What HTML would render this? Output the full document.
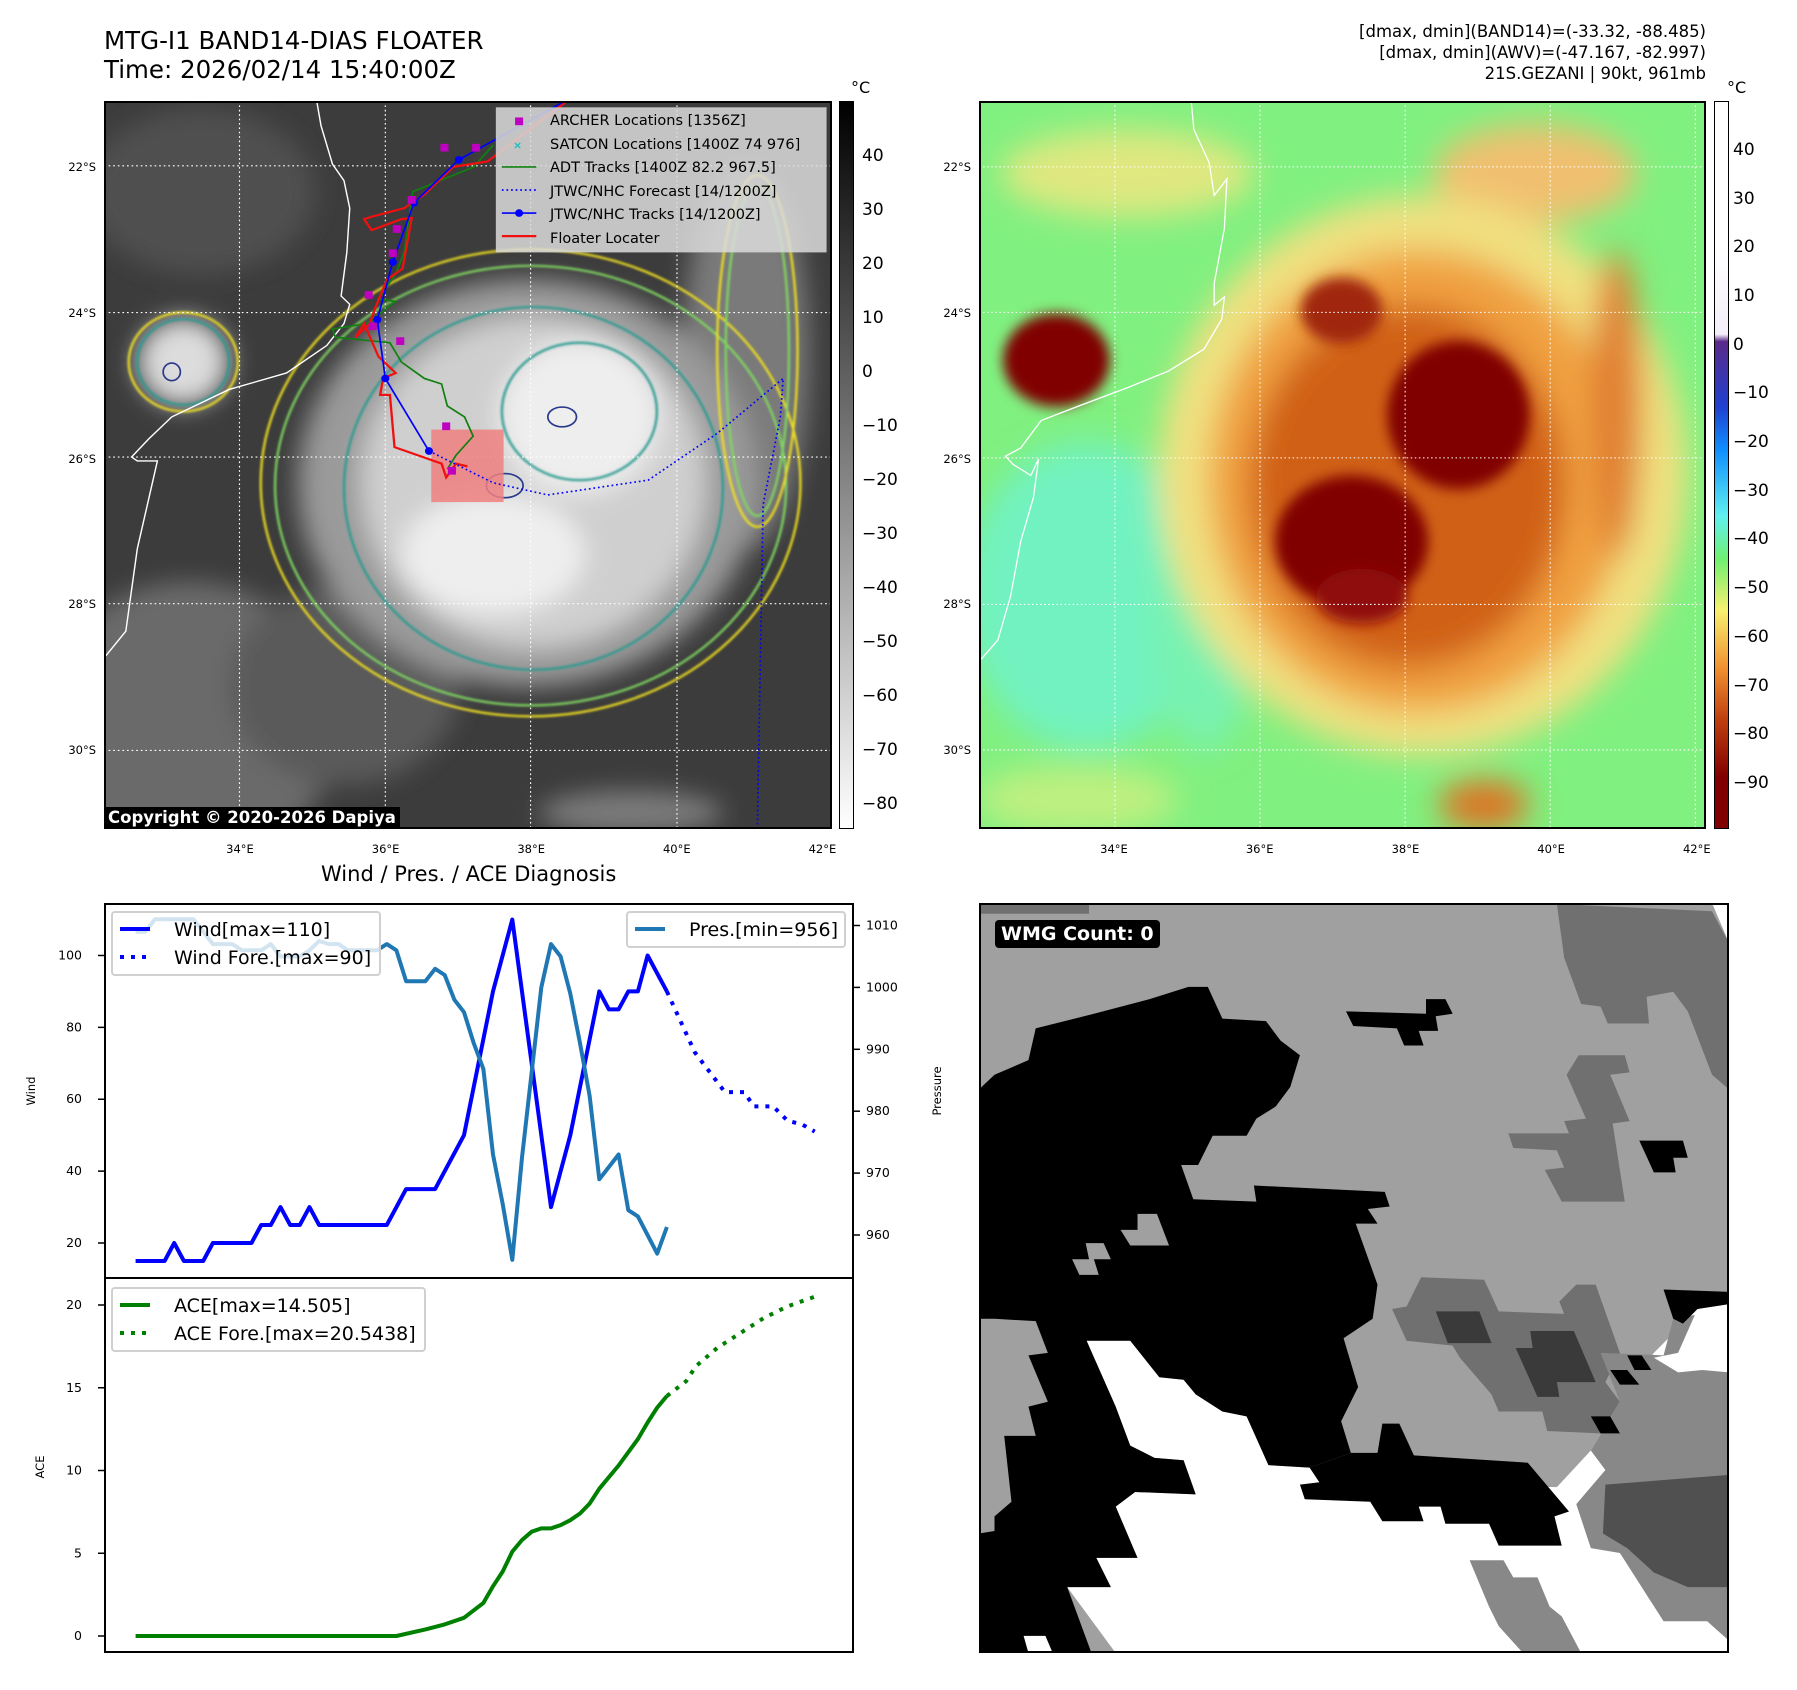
<!DOCTYPE html>
<html><head><meta charset="utf-8">
<style>
body{margin:0;background:#fff;font-family:"DejaVu Sans","Liberation Sans",sans-serif;}
#root{position:relative;width:1797px;height:1690px;overflow:hidden;background:#fff;}
.t{position:absolute;white-space:nowrap;color:#000;}
svg{position:absolute;overflow:hidden;}
</style></head><body>
<div id="root">
<div class="t" style="left:104px;top:26px;font-size:24.5px;line-height:29px">MTG-I1 BAND14-DIAS FLOATER<br>Time: 2026/02/14 15:40:00Z</div>
<div class="t" style="right:91px;top:21px;font-size:16.5px;line-height:21px;text-align:right">[dmax, dmin](BAND14)=(-33.32, -88.485)<br>[dmax, dmin](AWV)=(-47.167, -82.997)<br>21S.GEZANI | 90kt, 961mb</div>
<div class="t" style="left:851px;top:78px;font-size:16px">°C</div>
<div class="t" style="left:1727px;top:78px;font-size:16px">°C</div>

<!-- LEFT MAP -->
<svg style="left:104px;top:101px" width="728" height="728" viewBox="182 185 1268 1325" preserveAspectRatio="none">
<defs>
<filter id="b1"><feGaussianBlur stdDeviation="22"/></filter>
<filter id="b2"><feGaussianBlur stdDeviation="2"/></filter>
</defs>
<rect x="182" y="185" width="1268" height="1325" fill="#3c3c3c"/>
<g filter="url(#b1)">
<ellipse cx="330" cy="1320" rx="260" ry="260" fill="#6a6a6a"/>
<ellipse cx="600" cy="1250" rx="200" ry="180" fill="#5a5a5a"/>
<ellipse cx="350" cy="350" rx="200" ry="150" fill="#505050"/>
<ellipse cx="1300" cy="650" rx="110" ry="350" fill="#7a7a7a"/>
<ellipse cx="920" cy="880" rx="400" ry="370" fill="#9a9a9a"/>
<ellipse cx="930" cy="880" rx="300" ry="300" fill="#cfcfcf"/>
<ellipse cx="1010" cy="760" rx="140" ry="140" fill="#eeeeee"/>
<ellipse cx="860" cy="1010" rx="160" ry="110" fill="#eeeeee"/>
<ellipse cx="320" cy="660" rx="80" ry="80" fill="#dcdcdc"/>
<ellipse cx="1100" cy="1480" rx="160" ry="40" fill="#7a7a7a"/>
</g>
<g fill="none" stroke-width="4" filter="url(#b2)">
<ellipse cx="925" cy="880" rx="470" ry="425" stroke="#f0e020"/>
<ellipse cx="925" cy="885" rx="445" ry="400" stroke="#80d860"/>
<ellipse cx="930" cy="890" rx="330" ry="330" stroke="#2a9a90"/>
<ellipse cx="1010" cy="750" rx="135" ry="125" stroke="#2a9a90"/>
<ellipse cx="320" cy="660" rx="95" ry="90" stroke="#f0e020"/>
<ellipse cx="320" cy="660" rx="80" ry="78" stroke="#2a9a90"/>
<ellipse cx="1320" cy="640" rx="70" ry="320" stroke="#f0e020"/>
<ellipse cx="1320" cy="640" rx="55" ry="300" stroke="#80d860"/>
</g>
<g fill="none" stroke="#2a3a8a" stroke-width="3">
<ellipse cx="880" cy="885" rx="32" ry="22"/><ellipse cx="980" cy="760" rx="25" ry="18"/><ellipse cx="300" cy="678" rx="15" ry="16"/>
</g>
<g stroke="#fff" stroke-width="2" stroke-dasharray="3 5">
<line x1="418" y1="185" x2="418" y2="1510"/><line x1="672" y1="185" x2="672" y2="1510"/><line x1="925" y1="185" x2="925" y2="1510"/><line x1="1180" y1="185" x2="1180" y2="1510"/>
<line x1="182" y1="303" x2="1450" y2="303"/><line x1="182" y1="570" x2="1450" y2="570"/><line x1="182" y1="833" x2="1450" y2="833"/><line x1="182" y1="1100" x2="1450" y2="1100"/><line x1="182" y1="1367" x2="1450" y2="1367"/>
</g>
<polyline fill="none" stroke="#fff" stroke-width="2.5" points="553,188 560,230 580,300 600,330 610,380 605,460 595,540 610,555 600,590 570,630 500,680 400,710 300,760 260,800 230,833 240,840 275,840 240,1000 220,1150 185,1195"/>
<rect x="752" y="783" width="126" height="132" fill="#f08080" opacity="0.85"/>
<polyline fill="none" stroke="#108010" stroke-width="3" points="860,265 826,305 720,350 705,460 690,500 660,545 690,550 640,590 580,600 585,615 680,625 700,660 740,690 770,700 780,740 810,760 825,795 795,830 780,855"/>
<polyline fill="none" stroke="#f01010" stroke-width="4" points="985,188 850,295 790,305 740,355 705,380 650,395 635,400 648,420 700,400 718,398 702,490 675,510 655,560 645,590 620,615 635,590 660,650 690,680 668,690 663,720 680,720 688,815 770,845 778,870 795,845 815,850"/>
<polyline fill="none" stroke="#0000ff" stroke-width="3" stroke-dasharray="3 5" points="748,822 860,880 955,902 1130,875 1250,790 1365,690 1360,760 1330,920 1320,1510"/>
<polyline fill="none" stroke="#0000ff" stroke-width="3" points="985,185 800,292 722,370 685,478 658,583 672,690 748,822"/>
<g fill="#0000ff"><circle cx="800" cy="292" r="7"/><circle cx="722" cy="370" r="7"/><circle cx="685" cy="478" r="7"/><circle cx="658" cy="583" r="7"/><circle cx="672" cy="690" r="7"/><circle cx="748" cy="822" r="7"/></g>
<g fill="#c000c0"><rect x="768" y="263" width="14" height="14"/><rect x="823" y="263" width="14" height="14"/><rect x="711" y="358" width="14" height="14"/><rect x="685" y="411" width="14" height="14"/><rect x="678" y="455" width="14" height="14"/><rect x="636" y="531" width="14" height="14"/><rect x="643" y="588" width="14" height="14"/><rect x="691" y="615" width="14" height="14"/><rect x="771" y="770" width="14" height="14"/><rect x="781" y="851" width="14" height="14"/></g>
<g>
<rect x="865" y="197" width="575" height="263" fill="#dcdcdc" fill-opacity="0.85" stroke="#ccc"/>
<rect x="898" y="215" width="14" height="14" fill="#c000c0"/>
<text x="896" y="273" font-size="22" fill="#20c0c0" font-weight="bold" font-family="Liberation Sans">×</text>
<line x1="875" y1="305" x2="935" y2="305" stroke="#108010" stroke-width="3"/>
<line x1="875" y1="347" x2="935" y2="347" stroke="#0000ff" stroke-width="3" stroke-dasharray="3 5"/>
<line x1="875" y1="389" x2="935" y2="389" stroke="#0000ff" stroke-width="3"/><circle cx="905" cy="389" r="7" fill="#0000ff"/>
<line x1="875" y1="431" x2="935" y2="431" stroke="#f01010" stroke-width="4"/>
</g>
</svg>
<div class="t" style="left:550px;top:110px;font-size:14.5px;line-height:23.6px">ARCHER Locations [1356Z]<br>SATCON Locations [1400Z 74 976]<br>ADT Tracks [1400Z 82.2 967.5]<br>JTWC/NHC Forecast [14/1200Z]<br>JTWC/NHC Tracks [14/1200Z]<br>Floater Locater</div>
<div class="t" style="left:104px;top:807px;height:22px;padding:0 4px;background:#000;color:#fff;font-weight:bold;font-size:16.5px;line-height:22px">Copyright © 2020-2026 Dapiya</div>
<div style="position:absolute;left:104px;top:101px;width:724px;height:724px;border:2px solid #000"></div>

<div style="position:absolute;left:839px;top:101px;width:13px;height:726px;border:1px solid #000;background:linear-gradient(#000,#fff)"></div>

<!-- RIGHT MAP -->
<svg style="left:979px;top:101px" width="727" height="728" viewBox="8 148 1428 1326" preserveAspectRatio="none">
<defs>
<filter id="c1"><feGaussianBlur stdDeviation="30"/></filter>
<filter id="c2"><feGaussianBlur stdDeviation="12"/></filter>
</defs>
<rect x="8" y="148" width="1428" height="1326" fill="#80f080"/>
<g filter="url(#c1)">
<ellipse cx="220" cy="1050" rx="240" ry="280" fill="#72f2c0"/>
<ellipse cx="450" cy="1100" rx="100" ry="230" fill="#78f2b0"/>
<ellipse cx="300" cy="280" rx="250" ry="80" fill="#e0e880"/>
<ellipse cx="1100" cy="280" rx="200" ry="90" fill="#f0c070"/>
<ellipse cx="200" cy="1420" rx="200" ry="60" fill="#c0f080"/>
<ellipse cx="880" cy="830" rx="520" ry="510" fill="#f0e080"/>
<ellipse cx="870" cy="840" rx="410" ry="420" fill="#f0a040"/>
<ellipse cx="850" cy="850" rx="310" ry="330" fill="#d06018"/>
<ellipse cx="1260" cy="700" rx="50" ry="280" fill="#e08030"/>
<ellipse cx="1000" cy="1430" rx="90" ry="45" fill="#e07020"/>
</g>
<g filter="url(#c2)">
<ellipse cx="950" cy="720" rx="140" ry="135" fill="#800000"/>
<ellipse cx="740" cy="950" rx="150" ry="120" fill="#800000"/>
<ellipse cx="760" cy="1050" rx="90" ry="50" fill="#900808"/>
<ellipse cx="720" cy="530" rx="80" ry="60" fill="#a02808"/>
<ellipse cx="160" cy="620" rx="105" ry="85" fill="#800000"/>
</g>
<g stroke="#fff" stroke-width="2" stroke-dasharray="3 5">
<line x1="275" y1="148" x2="275" y2="1474"/><line x1="560" y1="148" x2="560" y2="1474"/><line x1="845" y1="148" x2="845" y2="1474"/><line x1="1130" y1="148" x2="1130" y2="1474"/><line x1="1415" y1="148" x2="1415" y2="1474"/>
<line x1="8" y1="268" x2="1436" y2="268"/><line x1="8" y1="533" x2="1436" y2="533"/><line x1="8" y1="798" x2="1436" y2="798"/><line x1="8" y1="1065" x2="1436" y2="1065"/><line x1="8" y1="1330" x2="1436" y2="1330"/>
</g>
<polyline fill="none" stroke="#fff" stroke-width="2.5" points="425,150 430,200 460,260 470,320 495,290 490,380 470,480 470,520 490,505 485,545 450,600 380,640 300,670 200,705 130,730 90,780 60,795 75,810 110,830 125,800 115,870 90,950 70,1050 45,1130 12,1165"/>
</svg>
<div style="position:absolute;left:979px;top:101px;width:723px;height:724px;border:2px solid #000"></div>
<div style="position:absolute;left:1714px;top:101px;width:13px;height:726px;border:1px solid #000;background:linear-gradient(#fff 0%,#fff 20%,#f4eef8 32%,#5a2a8a 33%,#2040d0 42%,#1090ff 48%,#60f0f0 57%,#70f070 63%,#f8f070 70%,#f09030 78%,#c04010 85%,#800000 93%,#800000 100%)"></div>

<!-- BOTTOM RIGHT -->
<svg style="left:979px;top:903px" width="750" height="750" viewBox="8 18 1547 1537" preserveAspectRatio="none">
<rect x="8" y="18" width="1547" height="1537" fill="#a0a0a0"/>
<polygon fill="#707070" points="8,18 235,18 235,40 8,40"/>
<polygon fill="#fff" points="1520,18 1555,18 1555,100"/>
<polygon fill="#707070" points="1200,20 1520,35 1555,100 1555,400 1520,370 1470,240 1440,200 1385,210 1390,265 1305,265 1290,230 1250,225 1215,130"/>
<polygon fill="#707070" points="1245,330 1340,330 1350,365 1310,370 1350,465 1315,470 1340,630 1210,630 1175,565 1215,560 1200,525 1110,520 1100,490 1225,490 1215,465 1260,460 1220,370"/>
<polygon fill="#000" points="1370,505 1460,505 1470,540 1440,540 1445,570 1400,570"/>
<polygon fill="#000" points="765,240 930,245 930,215 970,215 985,245 950,250 955,280 915,280 925,310 885,310 870,275 780,270"/>
<polygon fill="#fff" points="230,915 320,915 380,990 430,995 455,1025 510,1060 560,1070 605,1170 690,1175 710,1205 1200,1215 1270,1140 1330,1040 1400,940 1490,850 1555,840 1555,1555 290,1555 190,1420 280,1420 250,1360 335,1360 290,1255 330,1225 455,1230 430,1160 370,1155 320,1130"/>
<polygon fill="#000" points="8,400 40,370 110,340 125,275 245,245 360,215 440,190 480,190 510,255 600,260 630,300 670,330 650,395 620,435 580,460 560,495 490,495 460,555 425,555 450,625 580,630 575,597 845,610 855,640 810,645 830,675 785,675 830,800 820,870 760,910 790,1010 755,1080 775,1145 690,1175 605,1170 560,1070 510,1060 455,1025 430,995 380,990 320,915 230,915 290,1050 320,1130 370,1155 430,1160 455,1230 330,1225 290,1255 335,1360 250,1360 280,1420 190,1420 240,1555 8,1555"/>
<polygon fill="#fff" points="100,1520 145,1520 160,1555 110,1555"/>
<polygon fill="#000" points="670,1210 710,1205 690,1175 775,1145 830,1145 840,1085 875,1085 905,1150 1140,1165 1225,1265 1195,1275 1210,1335 1080,1335 1060,1290 970,1290 960,1255 915,1255 925,1285 840,1285 815,1245 680,1240"/>
<polygon fill="#a0a0a0" points="8,870 40,870 125,875 150,940 110,945 150,1040 110,1050 125,1110 60,1110 75,1245 40,1275 40,1305 8,1310"/>
<polygon fill="#a0a0a0" points="300,688 335,688 335,655 375,655 400,720 320,720"/>
<polygon fill="#a0a0a0" points="228,715 265,715 280,748 245,748 255,780 215,780 200,748 235,748"/>
<polygon fill="#707070" points="920,785 1050,790 1080,855 1215,860 1205,835 1240,800 1280,800 1330,940 1300,1000 1330,1040 1290,1105 1180,1100 1170,1060 1080,1060 1065,1025 1000,950 985,925 890,915 860,850 890,845"/>
<polygon fill="#3a3a3a" points="950,855 1040,855 1065,920 975,920"/>
<polygon fill="#3a3a3a" points="1115,930 1150,930 1145,895 1235,895 1280,1000 1200,1000 1205,1030 1160,1030"/>
<polygon fill="#888" points="1290,940 1420,945 1440,870 1555,850 1555,1530 1510,1490 1420,1490 1330,1350 1270,1340 1240,1250 1300,1180 1270,1140 1330,1040"/>
<polygon fill="#505050" points="1300,1210 1555,1190 1555,1420 1470,1420 1400,1390 1345,1340 1295,1310"/>
<polygon fill="#fff" points="1400,950 1450,940 1490,850 1555,840 1555,980 1500,975 1450,980"/>
<polygon fill="#000" points="1420,810 1555,815 1555,840 1490,850 1460,880 1440,870"/>
<polygon fill="#888" points="1020,1365 1090,1365 1110,1400 1160,1400 1185,1460 1210,1480 1250,1555 1130,1555 1080,1500 1060,1460"/>
<polygon fill="#000" points="1345,945 1375,945 1395,975 1360,975"/>
<polygon fill="#000" points="1310,975 1345,975 1370,1005 1330,1005"/>
<polygon fill="#000" points="1270,1070 1310,1070 1330,1105 1290,1105"/>
</svg>
<div style="position:absolute;left:979px;top:903px;width:746px;height:746px;border:2px solid #000"></div>
<div class="t" style="left:995px;top:920px;background:#000;color:#fff;font-weight:bold;font-size:19px;line-height:28px;padding:0 6px;border-radius:4px">WMG Count: 0</div>

<div class="t" style="left:321px;top:862px;font-size:21px">Wind / Pres. / ACE Diagnosis</div>
<svg id="chart" style="left:0;top:0" width="1797" height="1690"></svg>
</div>

<script>
const windIdx = [0,3,4,5,7,8,12,13,14,15,16,17,18,19,26,28,31,34,37,39,43,45,48,49,50,51,52,53,55];
const windVal = [15,15,20,15,15,20,20,25,25,30,25,25,30,25,25,35,35,50,90,110,30,50,90,85,85,90,90,100,90];
const windForeIdx = [55,57.9,61,63,64,66,67.5,69,70.3];
const windForeVal = [90,73,62,62,58,58,54,53,51];
const presIdx = [0,1,2,6,8,10,11,13,14,15,17,18,19,20,21,22,25,26,27,28,30,31,32,33,34,35,36,37,38,39,40,42,43,44,45,46,47,48,50,51,52,54,55];
const presVal = [1009,1009,1011,1011,1007,1007,1006,1006,1007,1005,1005,1006,1007.5,1007,1007,1006,1006,1007,1006,1001,1001,1003,1002,998,996,991,986.8,973,965,956,972.5,1000,1007,1005,999,991,982.5,969,973,964,963,957,961.3];
const aceIdx = [0,27,30,32,34,36,37,38,39,40,41,42,43,44,45,46,47,48,50,52,53,54,55];
const aceVal = [0,0,0.4,0.7,1.1,2,3,3.9,5.1,5.8,6.3,6.5,6.5,6.7,7,7.4,8,8.9,10.3,11.9,12.9,13.8,14.5];
const aceForeIdx = [55,57,58,60.2,62.6,65,67.4,70.3];
const aceForeVal = [14.5,15.4,16.3,17.4,18.3,19.2,19.9,20.5];
const windTicks = [20,40,60,80,100];
const presTicks = [960,970,980,990,1000,1010];
const aceTicks = [0,5,10,15,20];

const X = i => 135.6 + i*9.66;
const YW = v => 1243 - (v-20)*3.594;
const YP = p => 1235 - (p-960)*6.19;
const YA = a => 1636 - a*16.55;
const NS='http://www.w3.org/2000/svg';
const svg=document.getElementById('chart');
const FF='DejaVu Sans, Liberation Sans, sans-serif';
function mk(tag,attrs,parent){const e=document.createElementNS(NS,tag);for(const k in attrs)e.setAttribute(k,attrs[k]);(parent||svg).appendChild(e);return e;}
function pts(ix,vs,f){return ix.map((x,k)=>X(x).toFixed(1)+','+f(vs[k]).toFixed(1)).join(' ');}
function txt(x,y,s,size,anchor,parent){const t=mk('text',{x:x,y:y,'font-size':size,'text-anchor':anchor||'start','font-family':FF},parent);t.textContent=s;return t;}

let l;
l=mk('polyline',{points:pts(windIdx,windVal,YW),fill:'none',stroke:'#0000ff','stroke-width':4,'stroke-linejoin':'round'});


l=mk('polyline',{points:pts(windForeIdx,windForeVal,YW),fill:'none',stroke:'#0000ff','stroke-width':4,'stroke-dasharray':'4 7'});


l=mk('polyline',{points:pts(presIdx,presVal,YP),fill:'none',stroke:'#1f77b4','stroke-width':4,'stroke-linejoin':'round'});


l=mk('polyline',{points:pts(aceIdx,aceVal,YA),fill:'none',stroke:'#008000','stroke-width':4,'stroke-linejoin':'round'});


l=mk('polyline',{points:pts(aceForeIdx,aceForeVal,YA),fill:'none',stroke:'#008000','stroke-width':4,'stroke-dasharray':'4 7'});



l=mk('rect',{x:105,y:904,width:748,height:374,fill:'none',stroke:'#000','stroke-width':2});


l=mk('rect',{x:105,y:1278,width:748,height:374,fill:'none',stroke:'#000','stroke-width':2});



windTicks.forEach(v=>{mk('line',{x1:98,x2:105,y1:YW(v),y2:YW(v),stroke:'#000','stroke-width':1.5});const t=txt(82,YW(v)+4,String(v),12.5,'end');});
presTicks.forEach(v=>{mk('line',{x1:853,x2:860,y1:YP(v),y2:YP(v),stroke:'#000','stroke-width':1.5});const t=txt(866,YP(v)+4,String(v),12.5,'start');});
aceTicks.forEach(v=>{mk('line',{x1:98,x2:105,y1:YA(v),y2:YA(v),stroke:'#000','stroke-width':1.5});const t=txt(82,YA(v)+4,String(v),12.5,'end');});
let a=txt(0,0,'Wind',11.5,'middle');a.setAttribute('transform','translate(35,1091) rotate(-90)');


a=txt(0,0,'Pressure',11.5,'middle');a.setAttribute('transform','translate(941,1091) rotate(-90)');


a=txt(0,0,'ACE',11.5,'middle');a.setAttribute('transform','translate(44,1467) rotate(-90)');



function legend(x,y,w,h,items,name){
 const g=mk('g',{});
 
 
 mk('rect',{x:x,y:y,width:w,height:h,rx:3,fill:'#fff','fill-opacity':0.8,stroke:'#d0d0d0','stroke-width':2},g);
 items.forEach((it,k)=>{const yy=y+17+k*28;
  mk('line',{x1:x+8,x2:x+38,y1:yy,y2:yy,stroke:it.c,'stroke-width':4,'stroke-dasharray':it.d?'4 7':'none'},g);
  txt(x+62,yy+7,it.t,19,'start',g);});
}
legend(112,912,268,63,[{c:'#0000ff',t:'Wind[max=110]'},{c:'#0000ff',t:'Wind Fore.[max=90]',d:1}],'wind-legend');
legend(627,912,218,35,[{c:'#1f77b4',t:'Pres.[min=956]'}],'pressure-legend');
legend(112,1288,313,63,[{c:'#008000',t:'ACE[max=14.505]'},{c:'#008000',t:'ACE Fore.[max=20.5438]',d:1}],'ace-legend');

function lab(x,y,s,size,align,name){const d=document.createElement('div');d.className='t';d.style.fontSize=size+'px';d.style.top=(y-size*0.6)+'px';
 if(align==='r'){d.style.right=(1797-x)+'px';}else if(align==='c'){d.style.left=(x-40)+'px';d.style.width='80px';d.style.textAlign='center';}else d.style.left=x+'px';
 d.textContent=s;
 
 
 document.getElementById('root').appendChild(d);}
const cbLeftTicks=[40,30,20,10,0,-10,-20,-30,-40,-50,-60,-70,-80];
cbLeftTicks.forEach(v=>lab(862,156+(40-v)*5.4,String(v).replace('-','−'),17,'l','ir-colorbar-tick'));
const cbRightTicks=[40,30,20,10,0,-10,-20,-30,-40,-50,-60,-70,-80,-90];
cbRightTicks.forEach(v=>lab(1733,150+(40-v)*4.87,String(v).replace('-','−'),17,'l','awv-colorbar-tick'));
const lonLabels=['34°E','36°E','38°E','40°E','42°E'];
lonLabels.forEach((s,k)=>{lab(240+k*145.6,849,s,11.5,'c','lon-tick');lab(1114+k*145.7,849,s,11.5,'c','lon-tick');});
const latLabels=['22°S','24°S','26°S','28°S','30°S'];
latLabels.forEach((s,k)=>{lab(96,167+k*145.7,s,11.5,'r','lat-tick');lab(971,167+k*145.7,s,11.5,'r','lat-tick');});
</script>
</body></html>
